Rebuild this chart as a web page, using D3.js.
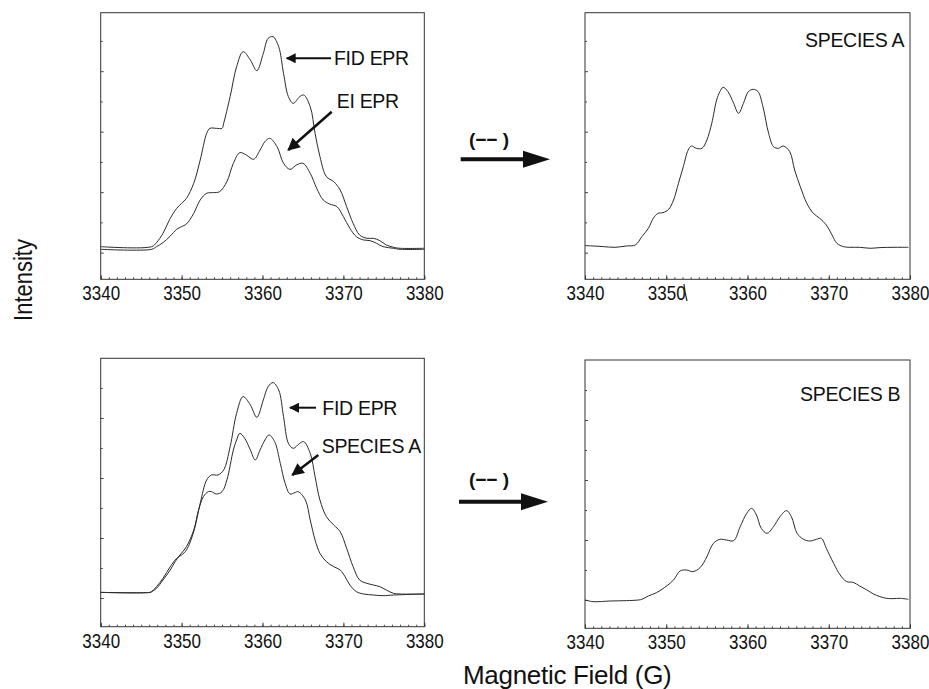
<!DOCTYPE html>
<html>
<head>
<meta charset="utf-8">
<script src="https://cdn.jsdelivr.net/npm/d3@7"></script>
<style>
  body { margin: 0; background: #fff; }
  text { font-family: "Liberation Sans", Arial, sans-serif; fill: #111; }
</style>
</head>
<body>
<div id="chart"></div>
<script>
// four EPR panels: field sweep 3340-3380 G, intensity in arbitrary units

const fieldTicks = [3340, 3350, 3360, 3370, 3380];

// top left - FID EPR [field G, intensity]
const fidTop = [[3340.0,0.099],[3346.3,0.099],[3346.9,0.165],[3347.7,0.320],[3348.6,0.567],[3349.4,0.733],[3350.0,0.815],[3350.6,0.898],[3351.5,1.146],[3352.3,1.532],[3353.1,1.972],[3353.5,2.055],[3354.3,2.055],[3355.0,2.055],[3355.2,2.138],[3356.0,2.579],[3356.8,3.074],[3357.6,3.322],[3358.5,3.185],[3359.3,3.008],[3360.1,3.295],[3360.7,3.543],[3361.3,3.570],[3362.0,3.405],[3362.6,2.964],[3363.2,2.579],[3363.8,2.468],[3364.6,2.579],[3365.1,2.606],[3365.9,2.413],[3366.5,1.972],[3367.1,1.587],[3367.9,1.256],[3368.8,1.174],[3369.6,1.036],[3370.4,0.760],[3371.2,0.485],[3372.0,0.292],[3372.9,0.237],[3373.7,0.237],[3374.5,0.198],[3375.3,0.127],[3376.2,0.088],[3377.0,0.072],[3380.0,0.072]];

// top left - EI EPR
const eiTop = [[3340.0,0.055],[3346.3,0.055],[3346.9,0.099],[3347.7,0.165],[3348.6,0.275],[3349.4,0.386],[3350.0,0.430],[3350.6,0.474],[3351.5,0.650],[3352.3,0.871],[3353.1,0.981],[3353.9,0.992],[3354.7,1.008],[3355.6,1.174],[3356.4,1.477],[3357.2,1.653],[3358.0,1.614],[3358.9,1.543],[3359.7,1.697],[3360.3,1.835],[3360.9,1.890],[3361.8,1.752],[3362.6,1.477],[3363.4,1.377],[3364.2,1.449],[3365.0,1.477],[3365.9,1.311],[3366.7,1.063],[3367.5,0.871],[3368.3,0.804],[3369.2,0.760],[3370.0,0.595],[3370.8,0.402],[3371.6,0.264],[3372.5,0.209],[3373.3,0.198],[3374.1,0.154],[3374.9,0.099],[3376.2,0.072],[3377.0,0.055],[3380.0,0.055]];

// top right - species A (difference)
const speciesATop = [[3340.0,0.116],[3341.0,0.110],[3342.3,0.099],[3343.7,0.088],[3345.1,0.110],[3346.2,0.127],[3347.0,0.264],[3347.8,0.402],[3348.4,0.567],[3349.0,0.650],[3349.6,0.661],[3350.3,0.716],[3350.9,0.871],[3351.5,1.146],[3352.1,1.421],[3352.7,1.697],[3353.1,1.763],[3353.7,1.725],[3354.4,1.725],[3355.0,1.862],[3355.6,2.138],[3356.2,2.523],[3356.6,2.661],[3357.0,2.733],[3357.6,2.661],[3358.3,2.468],[3358.9,2.303],[3359.5,2.468],[3360.1,2.661],[3360.7,2.700],[3361.3,2.661],[3361.9,2.413],[3362.6,1.972],[3363.2,1.752],[3363.8,1.725],[3364.4,1.763],[3365.2,1.669],[3365.8,1.366],[3366.5,1.091],[3367.3,0.815],[3368.1,0.650],[3368.9,0.567],[3369.7,0.457],[3370.4,0.292],[3371.0,0.154],[3371.8,0.099],[3372.6,0.088],[3373.8,0.088],[3375.1,0.072],[3376.3,0.083],[3377.9,0.088],[3379.8,0.088]];

// bottom left - FID EPR
const fidBottom = [[3340.0,0.094],[3346.1,0.094],[3346.3,0.106],[3346.9,0.189],[3347.7,0.328],[3348.6,0.522],[3349.4,0.661],[3350.0,0.717],[3350.6,0.800],[3351.5,1.106],[3352.3,1.578],[3353.1,1.967],[3353.7,2.050],[3354.5,2.050],[3355.2,2.133],[3356.0,2.522],[3356.8,3.078],[3357.6,3.356],[3358.5,3.217],[3359.3,3.011],[3360.1,3.300],[3360.7,3.522],[3361.3,3.589],[3362.0,3.467],[3362.6,3.022],[3363.2,2.578],[3363.8,2.494],[3364.6,2.578],[3365.1,2.606],[3365.9,2.411],[3366.5,2.022],[3367.1,1.633],[3367.9,1.356],[3368.8,1.217],[3369.6,1.106],[3370.4,0.828],[3371.2,0.522],[3372.0,0.300],[3372.9,0.244],[3373.7,0.217],[3374.5,0.189],[3375.3,0.133],[3376.2,0.078],[3377.0,0.067],[3380.0,0.067]];

// bottom left - species A overlay
const speciesABottom = [[3340.0,0.094],[3346.1,0.094],[3346.3,0.106],[3346.9,0.161],[3347.7,0.300],[3348.6,0.467],[3349.2,0.606],[3349.8,0.717],[3350.6,0.856],[3351.5,1.133],[3352.1,1.467],[3352.7,1.689],[3353.3,1.772],[3353.7,1.772],[3354.3,1.733],[3355.0,1.772],[3355.6,1.967],[3356.4,2.467],[3356.8,2.633],[3357.2,2.744],[3357.8,2.661],[3358.5,2.467],[3359.1,2.300],[3359.7,2.467],[3360.3,2.633],[3360.8,2.717],[3361.5,2.606],[3362.2,2.244],[3362.8,1.911],[3363.4,1.733],[3364.0,1.756],[3364.4,1.772],[3365.3,1.633],[3365.9,1.300],[3366.5,0.967],[3367.1,0.744],[3367.9,0.606],[3368.8,0.522],[3369.6,0.467],[3370.2,0.356],[3370.8,0.217],[3371.6,0.106],[3372.5,0.067],[3373.7,0.050],[3374.9,0.039],[3376.2,0.050],[3380.0,0.067]];

// bottom right - species B (difference)
const speciesB = [[3340.0,0.000],[3341.0,-0.028],[3343.1,-0.017],[3345.1,-0.011],[3346.6,0.000],[3347.0,0.011],[3347.8,0.067],[3348.8,0.122],[3350.1,0.239],[3350.9,0.333],[3351.7,0.483],[3352.5,0.500],[3353.3,0.472],[3354.2,0.544],[3355.0,0.722],[3355.8,0.944],[3356.6,1.011],[3357.4,1.000],[3358.3,0.989],[3359.1,1.222],[3359.9,1.444],[3360.5,1.528],[3361.1,1.417],[3361.7,1.194],[3362.4,1.111],[3363.2,1.222],[3364.0,1.389],[3364.8,1.489],[3365.4,1.389],[3366.1,1.111],[3366.9,1.011],[3367.7,0.983],[3368.5,1.011],[3369.1,1.028],[3369.7,0.861],[3370.6,0.611],[3371.4,0.417],[3372.2,0.306],[3373.0,0.294],[3373.8,0.233],[3374.7,0.167],[3375.5,0.100],[3376.3,0.056],[3377.1,0.028],[3377.9,0.022],[3378.8,0.028],[3379.8,0.011]];

const width = 929, height = 689;
const ink = "#2a2a2a";

const svg = d3.select("#chart").append("svg")
    .attr("width", width)
    .attr("height", height);

svg.append("defs").append("marker")
    .attr("id", "head")
    .attr("viewBox", "0 0 10 10")
    .attr("refX", 9).attr("refY", 5)
    .attr("markerWidth", 6).attr("markerHeight", 5)
    .attr("markerUnits", "strokeWidth")
    .attr("orient", "auto")
  .append("path")
    .attr("d", "M0,0 L10,5 L0,10 Z")
    .attr("fill", "#111");

// panel frames (px) and the intensity range each one shows
const panels = [
    { left: 100.7, right: 424.3, top: 12.7, bottom: 279.3, yDom: [-0.441, 3.967], series: [fidTop, eiTop] },
    { left: 585, right: 910, top: 12.7, bottom: 279.3, yDom: [-0.441, 3.967], series: [speciesATop] },
    { left: 100.7, right: 424.3, top: 358.3, bottom: 626.7, yDom: [-0.478, 3.994], series: [fidBottom, speciesABottom] },
    { left: 585, right: 910, top: 360, bottom: 628.3, yDom: [-0.472, 4.0], series: [speciesB] }
];

panels.forEach(p => {
    const x = d3.scaleLinear().domain([3340, 3380]).range([p.left, p.right]);
    const y = d3.scaleLinear().domain(p.yDom).range([p.bottom, p.top]);
    const g = svg.append("g");

    g.append("rect")
        .attr("x", p.left).attr("y", p.top)
        .attr("width", p.right - p.left).attr("height", p.bottom - p.top)
        .attr("fill", "none").attr("stroke", "#333").attr("stroke-width", 1);

    // minor ticks every gauss, pointing in
    g.append("g")
        .attr("transform", `translate(0,${p.bottom})`)
        .call(d3.axisBottom(x).tickValues(d3.range(3340, 3381, 1)).tickSizeInner(-2).tickSizeOuter(0).tickFormat(""))
        .call(a => a.select(".domain").remove())
        .call(a => a.selectAll("line").attr("stroke", "#444"));

    const xa = g.append("g")
        .attr("transform", `translate(0,${p.bottom})`)
        .call(d3.axisBottom(x).tickValues(fieldTicks).tickSizeInner(-4).tickSizeOuter(0).tickFormat(d3.format("d")));
    xa.select(".domain").remove();
    xa.selectAll("line").attr("stroke", "#333");
    xa.selectAll("text")
        .attr("y", 21).attr("dy", null)
        .attr("transform", "scale(0.85,1)")
        .style("font-size", "20px")
        .style("font-family", "'Liberation Sans', Arial, sans-serif")
        .attr("fill", "#111");

    // left ticks, no labels (arbitrary units)
    const ya = g.append("g")
        .attr("transform", `translate(${p.left},0)`)
        .call(d3.axisLeft(y).tickValues(d3.range(0, 4, 0.5)).tickSizeOuter(0).tickFormat(""));
    ya.select(".domain").remove();
    ya.selectAll("line")
        .attr("stroke", "#444")
        .attr("x2", d => Number.isInteger(d) ? 3 : 2);

    const line = d3.line()
        .x(d => x(d[0]))
        .y(d => y(d[1]))
        .curve(d3.curveCatmullRom.alpha(0.5));

    p.series.forEach(s => {
        g.append("path")
            .datum(s)
            .attr("d", line)
            .attr("fill", "none")
            .attr("stroke", ink)
            .attr("stroke-width", 1);
    });
});

// labels inside panels
const labelData = [
    { t: "FID EPR", x: 334, y: 65 },
    { t: "EI EPR", x: 336.7, y: 108.3 },
    { t: "SPECIES A", x: 805, y: 46.7 },
    { t: "FID EPR", x: 322.3, y: 415 },
    { t: "SPECIES A", x: 321.7, y: 453.3 },
    { t: "SPECIES B", x: 800, y: 401 }
];
svg.selectAll("text.lbl")
    .data(labelData)
    .join("text")
    .attr("class", "lbl")
    .attr("x", d => d.x).attr("y", d => d.y)
    .style("font-size", "19.5px")
    .style("letter-spacing", "-0.3px")
    .text(d => d.t);

// pointer arrows
const pointers = [
    { x1: 331, y1: 58.3, x2: 286.7, y2: 58.3, w: 2 },
    { x1: 331.7, y1: 111.7, x2: 288.3, y2: 150, w: 2.5 },
    { x1: 316, y1: 407.7, x2: 290, y2: 407.7, w: 2 },
    { x1: 318.3, y1: 455, x2: 292.3, y2: 475, w: 2.5 }
];
svg.selectAll("line.ptr")
    .data(pointers)
    .join("line")
    .attr("class", "ptr")
    .attr("x1", d => d.x1).attr("y1", d => d.y1)
    .attr("x2", d => d.x2).attr("y2", d => d.y2)
    .attr("stroke", "#111")
    .attr("stroke-width", d => d.w)
    .attr("marker-end", "url(#head)");

// big subtraction arrows between columns
const bigArrows = [
    { x1: 460.7, x2: 550, y: 159.3, ty: 146 },
    { x1: 459, x2: 548, y: 501.7, ty: 486 }
];
bigArrows.forEach(a => {
    svg.append("line")
        .attr("x1", a.x1).attr("x2", a.x2 - 26)
        .attr("y1", a.y).attr("y2", a.y)
        .attr("stroke", "#111").attr("stroke-width", 4);
    svg.append("path")
        .attr("d", `M${a.x2 - 27},${a.y - 8.5} L${a.x2},${a.y} L${a.x2 - 27},${a.y + 8.5} Z`)
        .attr("fill", "#111");
    svg.append("text")
        .attr("x", 489).attr("y", a.ty)
        .attr("text-anchor", "middle")
        .style("font-size", "19px")
        .style("font-weight", "bold")
        .text("(\u2212\u2212 )");
});

// small stray mark under 3350 in the top right panel
svg.append("path")
    .attr("d", "M684,284 L685,292 L687,301")
    .attr("fill", "none").attr("stroke", "#222").attr("stroke-width", 1.2);

// axis titles
svg.append("text")
    .attr("transform", "translate(32,280) rotate(-90) scale(0.88,1)")
    .attr("text-anchor", "middle")
    .style("font-size", "25px")
    .text("Intensity");

svg.append("text")
    .attr("x", 463).attr("y", 684)
    .style("font-size", "26px")
    .style("letter-spacing", "-0.3px")
    .text("Magnetic Field (G)");
</script>
</body>
</html>
